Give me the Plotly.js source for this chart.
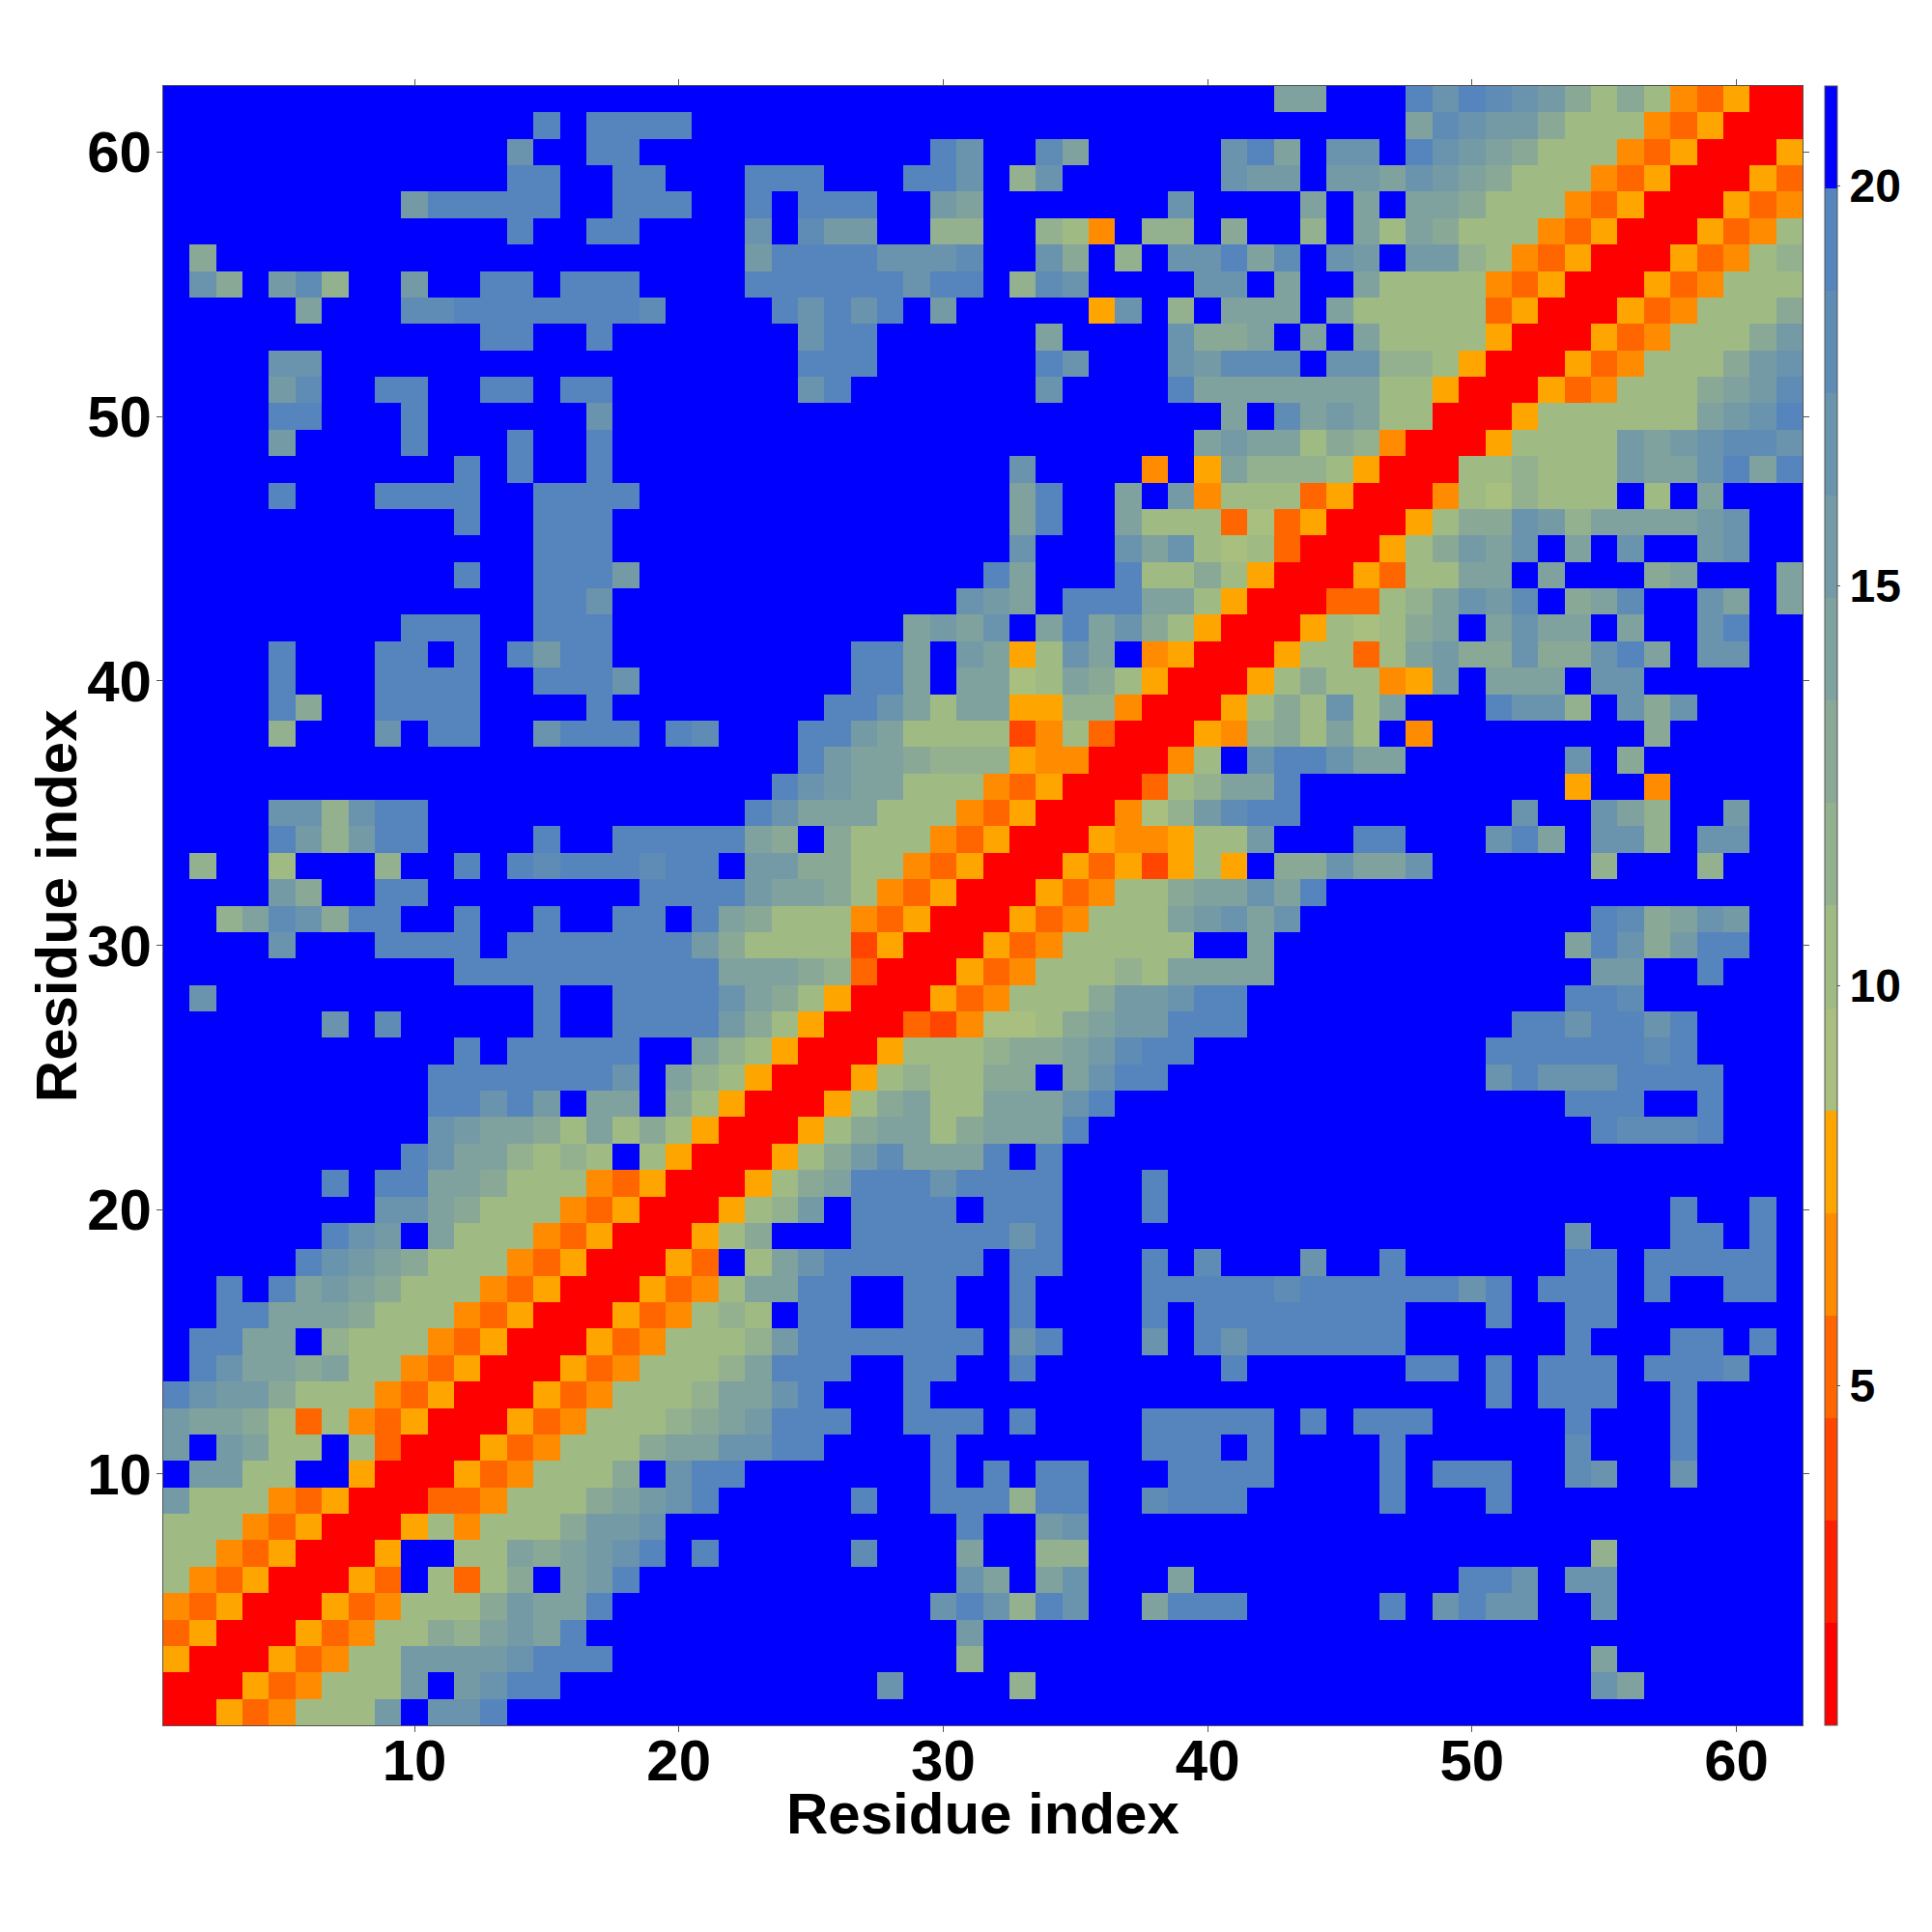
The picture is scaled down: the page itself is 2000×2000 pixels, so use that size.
<!DOCTYPE html>
<html>
<head>
<meta charset="utf-8">
<script src="https://cdn.plot.ly/plotly-3.0.1.min.js"></script>
<style>html,body{margin:0;padding:0;background:#fff}</style>
</head>
<body>
<div id="chart" style="width:2000px;height:2000px"></div>
<script>
// Distance bands, one per hex digit 0..f
const bandValues = [1.39,2.67,3.95,5.23,6.52,7.80,9.08,10.36,11.64,12.92,14.20,15.48,16.77,18.05,19.33,20.61];
const bandColors = ['#ff0000','#ff2000','#ff4500','#ff6600','#ff8c00','#ffa500','#a8bf80','#a0ba84','#93b08f','#89a996','#7fa29e','#749ba5','#6a93ad','#5f8cb4','#5585bc','#0000ff'];
const residueTicks = [10,20,30,40,50,60];
const barTicks = [5,10,15,20];
const axisLabel = 'Residue index';
// Rows from residue 62 (top) down to residue 1, columns 1..62
const rowsTopDown = [
"ffffffffff ffffffffff ffffffffff ffffffffff ffaafffece dcb9797435 00",
"ffffffffff ffffefeeee ffffffffff ffffffffff fffffffadc bb97774350 00",
"ffffffffff fffcffeeff fffffffffe cffdafffff ceafccfecb a977743500 05",
"ffffffffff fffeeffeef ffeeefffee cf8cffffff cbbfbbacba 9777435000 53",
"fffffffffb eeeeeffeee ffefeeeffb afffffffcf fffafafaa9 7774350005 34",
"ffffffffff fffeffeeff ffcfdbbff8 8ff874f88f 9ff8fa7a97 7743500053 47",
"f9ffffffff ffffffffff ffbeeeeccc dffc9f8fcc eadfcbfbb8 7435000534 78",
"fc9fbd8ffb ffeefeeeff ffeeeeeece ef8dcffffc cfaffa7777 4350005347 77",
"fffffafffd deeeeeeedf fffececefb fffff5cf8f aaafa77777 3500053477 79",
"ffffffffff ffeeffefff ffffceefff fffaffffc9 9afafa7777 5000534777 9b",
"ffffccffff ffffffffff ffffeeefff fffecfffcb dddfcc8875 0005347779 bc",
"ffffbdffee ffeefeefff ffffceffff fffcffffea aaaaaa7750 005347779a bd",
"ffffeefffe ffffffcfff ffffffffff ffffffffff afdaba7700 05777777ab ce",
"ffffbffffe fffeffefff ffffffffff fffffffffa baa7984000 57777babcd dc",
"ffffffffff fefeffefff ffffffffff ffcffff4f5 a888750007 78777baace ae",
"ffffefffee eeffeeeeff ffffffffff ffaeffafb4 7773500047 68777f7faf ff",
"ffffffffff feffeeefff ffffffffff ffaeffa777 3635000579 9cb8aaaabc ff",
"ffffffffff ffffeeefff ffffffffff ffcfffcac7 673000579b acfafcffbc ff",
"ffffffffff feffeeebff ffffffffff feafffe779 750005377a afafff9aff fa",
"ffffffffff ffffeecfff ffffffffff cbafeeeaa7 50003378ac bdf9adffca fa",
"fffffffffe eeffeeefff ffffffffab acfaeac975 00057679af acaafaffce ff",
"ffffefffee fefebeefff ffffffeeaf ba57caf450 0057737ab9 9c99ceafcc ff",
"ffffefffee eeffeeecff ffffffeeaf aa67a97500 05797745bf aaafccffff ff",
"ffffe9ffee eeffffefff fffffeeca7 aa55884000 5797c7afff ecc8fc9cff ff",
"ffff8fffcf eeffceeefe dfffeeba77 7724730005 4897a7f4ff ffffff9fff ff",
"ffffffffff ffffffffff ffffebaa98 8854400047 fceecaafff fffcf9ffff ff",
"ffffffffff ffffffffff fffecbaa77 7435000378 aaefffffff fff5ff4fff ff",
"ffffcc8cee ffffffffff ffecaaa777 435000468b deefffffff fcffca8ffb ff",
"ffffeb8bee ffffeffeee eea9f97774 3500054457 7bfffeefff ceafcc8fcc ff",
"f8ff7fff8f fefedeeede efbb997743 5000535257 5f99caacff ffff8fff8f ff",
"ffffb9ffee ffffffffee eebaa97435 000534779a acaeffffff ffffffffff ff",
"ff8adc9eef feffeffeef ea97774350 00534777ab cacfffffff ffffed9acb ff",
"ffffcfffee eefeeeeeee b977772500 053477777f faffffffff fffaec9bee ff",
"ffffffffff feeeeeeeee eaaa983000 53477787aa aaffffffff ffffbbffef ff",
"fcffffffff ffffeffeee eca9750005 347779bbce efffffffff fffeedffff ff",
"ffffffcfdf ffffeffeee eb97500032 46679abbee efffffffff feeceeceff ff",
"ffffffffff fefeeeeeff a875000577 7899abdeef ffffffffff eeeeeedeff ff",
"ffffffffff eeeeeeecfa 8750005787 799faceeff ffffffffff ceccceeeef ff",
"ffffffffff eecebfaaf9 75000579a7 7aaaceffff ffffffffff fffeeeffef ff",
"ffffffffff cbaa97a797 5000579aa7 9aaaefffff ffffffffff ffffedddef ff",
"fffffffffe caa8787f75 000579bdaa aefeffffff ffffffffff ffffffffff ff",
"ffffffefee aa97774350 00579aeeec eeeefffeff ffffffffff ffffffffff ff",
"ffffffffcc a977743500 0578bfeeee feeefffeff ffffffffff fffffffeff ef",
"ffffffecbf a777435000 579fffeeee eeceffffff ffffffffff fffcfffeef ef",
"fffffecba9 7774350005 3f7aceeeee efeefffefd fffcffefff fffeefeeee ef",
"ffefeaba97 7743500053 47aaeeffee ffeffffeee eedeeeeeec efeeefeffe ef",
"ffeeaaa977 7435000534 787feeffee ffeffffefe eeeeeeefff effeefffff ff",
"feeaaf8777 4350005347 778beeeeee efcefffcfe ceeeeeefff fffefffeef ef",
"fecaa9a774 3500053477 78aeeeffee ffefffffff effffffeef efeeefeeed ff",
"ecbb977743 5000534777 8aacefffef ffffffffff ffffffffff efeeeffeff ff",
"baa9737435 0005347778 9abeeeffee efeffffeee eefefeeeff fffefffeff ff",
"bfba77f730 005347779a acceeffffe fffffffeee feffffefff fffdfffeff ff",
"fbb77ff500 05347779fc eefffffffe fefeefffee eeffffefee effdcffcff ff",
"b777435000 3347779abc efffffeffe ee8eeffdee efffffefff efffffffff ff",
"7774350005 747779bbcf ffffffffff effbcfffff ffffffffff ffffffffff ff",
"774350005f f77a9abcef efffffdfff aff88fffff ffffffffff ffff8fffff ff",
"743500053f 7379fabeff ffffffffff cafacfffaf fffffffffe ecfccfffff ff",
"4350005347 779baaefff fffffffffc ec8ecffaee efffffefce ccffcfffff ff",
"3500053477 98abaeffff ffffffffff bfffffffff ffffffffff ffffffffff ff",
"500053477b bbbceeefff ffffffffff 8fffffffff ffffffffff ffffafffff ff",
"000534777b fbceefffff fffffffcff ff8fffffff ffffffffff ffffcaffff ff",
"00534777bf ccefffffff ffffffffff ffffffffff ffffffffff ffffffffff ff"
];

const residues = rowsTopDown.map((_, i) => i + 1);
const zValues = rowsTopDown.slice().reverse().map(r =>
  Array.from(r.replace(/ /g, '')).map(ch => bandValues[parseInt(ch, 16)]));

const zMin = 0.75, zMax = 21.25;
const colorscale = [];
bandColors.forEach((c, i) => {
  colorscale.push([i / bandColors.length, c]);
  colorscale.push([(i + 1) / bandColors.length, c]);
});

const font = 'Liberation Sans, Arial, sans-serif';
const titleFont = {family: font, size: 60, weight: 'bold', color: '#000'};
const axisBase = {
  range: [0.5, 62.5],
  tickmode: 'array',
  tickvals: residueTicks,
  ticktext: residueTicks.map(String),
  ticks: 'outside',
  ticklen: 6,
  tickwidth: 1,
  tickcolor: '#555',
  showline: true,
  linecolor: '#555',
  linewidth: 1,
  mirror: 'ticks',
  showgrid: false,
  zeroline: false,
  tickfont: {family: font, size: 60, weight: 'bold', color: '#000'},
  automargin: false
};

Plotly.newPlot('chart', [{
  type: 'heatmap',
  x: residues,
  y: residues,
  z: zValues,
  zmin: zMin,
  zmax: zMax,
  zsmooth: false,
  colorscale: colorscale,
  hoverinfo: 'skip',
  colorbar: {
    x: (1889 - 169) / 1697,
    xanchor: 'left',
    y: 0.5,
    yanchor: 'middle',
    len: 1,
    lenmode: 'fraction',
    thickness: 13,
    thicknessmode: 'pixels',
    xpad: 0,
    ypad: 0,
    outlinewidth: 1,
    outlinecolor: '#555',
    tickmode: 'array',
    tickvals: barTicks,
    ticktext: barTicks.map(String),
    ticks: 'outside',
    ticklen: 3,
    tickwidth: 1,
    tickcolor: '#555',
    tickfont: {family: font, size: 48, weight: 'bold', color: '#000'}
  }
}], {
  width: 2000,
  height: 2000,
  margin: {l: 169, r: 134, t: 89, b: 214, pad: 0},
  paper_bgcolor: '#fff',
  plot_bgcolor: '#fff',
  showlegend: false,
  xaxis: Object.assign({}, axisBase, {ticklabelstandoff: -22}),
  yaxis: Object.assign({}, axisBase, {ticklabelstandoff: -7}),
  annotations: [
    {text: axisLabel, xref: 'paper', yref: 'paper', x: 0.5, y: -0.054, xanchor: 'center', yanchor: 'middle', showarrow: false, font: titleFont},
    {text: axisLabel, xref: 'paper', yref: 'paper', x: -0.065, y: 0.5, xanchor: 'center', yanchor: 'middle', textangle: -90, showarrow: false, font: titleFont}
  ]
}, {staticPlot: true, displayModeBar: false});
</script>
</body>
</html>
